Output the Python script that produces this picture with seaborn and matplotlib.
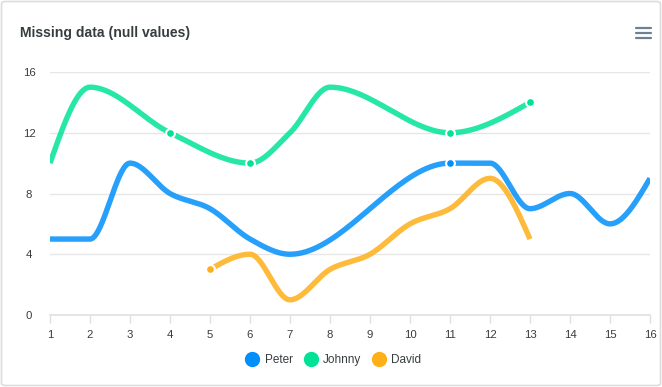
import numpy as np
import pandas as pd
import matplotlib
matplotlib.use("Agg")
import matplotlib.pyplot as plt
import seaborn as sns
from matplotlib.patches import FancyBboxPatch
from matplotlib.lines import Line2D

x_vals = list(range(1, 17))
peter = [5, 5, 10, 8, 7, 5, 4, None, None, None, 10, 10, 7, 8, 6, 9]
johnny = [10, 15, None, 12, None, 10, 12, 15, None, None, 12, None, 14, None, None, None]
david = [None, None, None, None, 3, 4, 1, 3, 4, 6, 7, 9, 5, None, None, None]
series_names = ["Peter", "Johnny", "David"]
colors = ["#008FFB", "#00E396", "#FEB019"]
y_ticks = [0, 4, 8, 12, 16]
title = "Missing data (null values)"


def monotone(xs, ys, n=40):
    xs = np.asarray(xs, float)
    ys = np.asarray(ys, float)
    if len(xs) == 1:
        return xs, ys
    h = np.diff(xs)
    s = np.diff(ys) / h
    m = np.zeros(len(xs))
    for i in range(1, len(xs) - 1):
        s0, s1 = s[i - 1], s[i]
        h0, h1 = h[i - 1], h[i]
        p = (s0 * h1 + s1 * h0) / (h0 + h1)
        m[i] = (np.sign(s0) + np.sign(s1)) * min(abs(s0), abs(s1), 0.5 * abs(p))
    if len(xs) > 2:
        m[0] = (3 * s[0] - m[1]) / 2
        m[-1] = (3 * s[-1] - m[-2]) / 2
    else:
        m[0] = m[-1] = s[0]
    ox, oy = [], []
    for i in range(len(xs) - 1):
        t = np.linspace(0, 1, n, endpoint=(i == len(xs) - 2))
        hh = h[i]
        h00 = 2 * t**3 - 3 * t**2 + 1
        h10 = t**3 - 2 * t**2 + t
        h01 = -2 * t**3 + 3 * t**2
        h11 = t**3 - t**2
        ox.extend(xs[i] + t * hh)
        oy.extend(h00 * ys[i] + h10 * hh * m[i] + h01 * ys[i + 1] + h11 * hh * m[i + 1])
    return np.array(ox), np.array(oy)


sns.set_style("white")
plt.rcParams["font.family"] = ["Liberation Sans", "DejaVu Sans"]

fig = plt.figure(figsize=(6.62, 3.87), dpi=100)
ax = fig.add_axes([50 / 662, (387 - 315) / 387, 600 / 662, 243 / 387])

# border
fig.patches.append(FancyBboxPatch((1.5 / 662, 1.5 / 387), 659 / 662, 384 / 387,
                                  boxstyle="round,pad=0,rounding_size=0.006",
                                  transform=fig.transFigure, fill=False,
                                  edgecolor="#dddddd", linewidth=1.2))

for name, vals, col in zip(series_names, [peter, johnny, david], colors):
    pts = [(x, v) for x, v in zip(x_vals, vals) if v is not None]
    px = [p[0] for p in pts]
    py = [p[1] for p in pts]
    sx, sy = monotone(px, py)
    df = pd.DataFrame({"x": sx, "y": sy})
    sns.lineplot(data=df, x="x", y="y", ax=ax, color=col, linewidth=3.9, alpha=0.85,
                 sort=False, estimator=None, solid_capstyle="butt", zorder=3)
    mx, my = [], []
    for i, v in enumerate(vals):
        if v is not None and i > 0 and vals[i - 1] is None:
            mx.append(x_vals[i])
            my.append(v)
    ax.scatter(mx, my, s=40, color=col, edgecolor="white", linewidth=1.5, zorder=4)

ax.set_xlim(1, 16)
ax.set_ylim(0, 16)
ax.set_xticks(x_vals)
ax.set_yticks(y_ticks)
ax.set_xlabel("")
ax.set_ylabel("")
for sp in ["top", "right", "left"]:
    ax.spines[sp].set_visible(False)
ax.spines["bottom"].set_color("#e0e0e0")
ax.spines["bottom"].set_linewidth(1.2)
ax.grid(axis="y", color="#e6e6e6", linewidth=1)
ax.grid(axis="x", visible=False)
ax.tick_params(axis="x", length=6, color="#e0e0e0", width=1, pad=5,
               labelsize=8.2, labelcolor="#373d3f", bottom=True)
ax.tick_params(axis="y", length=0, labelsize=8.2, labelcolor="#373d3f", pad=15)
ax.set_axisbelow(True)
for lbl in ax.get_yticklabels():
    lbl.set_horizontalalignment("center")

fig.text(20 / 662, 1 - 33 / 387, title, fontsize=10.1, fontweight="bold",
         color="#373d3f", va="center", ha="left")

# hamburger menu
for yy in [28, 33, 38]:
    fig.add_artist(Line2D([636 / 662, 651 / 662], [1 - yy / 387, 1 - yy / 387],
                          color="#6e8192", linewidth=1.6, transform=fig.transFigure))

handles = [Line2D([0], [0], marker="o", linestyle="", markersize=10,
                  markerfacecolor=c, markeredgecolor=c) for c in colors]
fig.legend(handles, series_names, loc="center", bbox_to_anchor=(0.5, 1 - 360 / 387),
           ncol=3, frameon=False, fontsize=8.5, handletextpad=0.05,
           columnspacing=0.5, labelcolor="#373d3f")

fig.savefig("out.png", dpi=100)
